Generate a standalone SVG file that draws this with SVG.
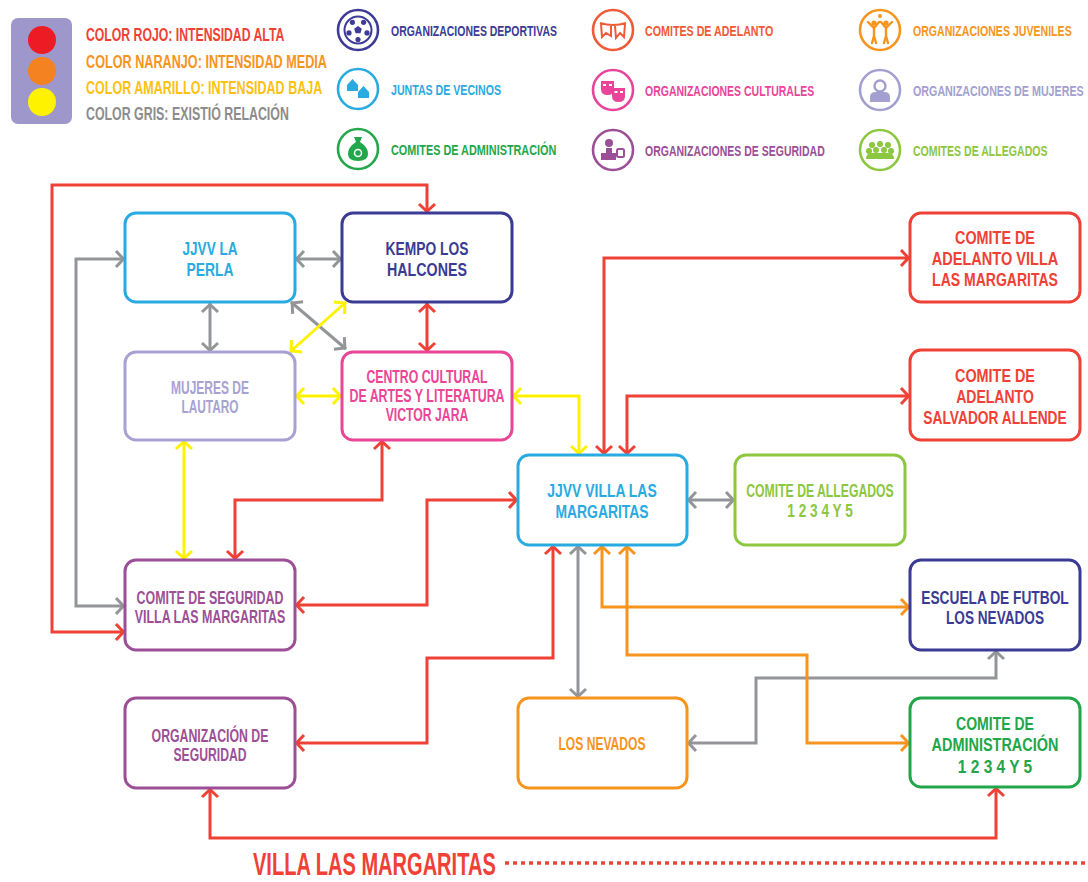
<svg xmlns="http://www.w3.org/2000/svg" width="1088" height="882" viewBox="0 0 1088 882">
<style>
.bg{fill:#ffffff}
.box{fill:#ffffff;stroke-width:3}
.t{font-family:"Liberation Sans",Arial,sans-serif;font-weight:bold;text-anchor:middle;font-size:19px}
.t3{font-size:18px}
.lg{font-family:"Liberation Sans",Arial,sans-serif;font-weight:bold;font-size:18px}
.lc{font-family:"Liberation Sans",Arial,sans-serif;font-weight:bold;font-size:15px}
.c{fill:none;stroke-width:3}
.red{stroke:#ef4136}
.gray{stroke:#939598}
.yel{stroke:#fff200}
.ora{stroke:#f7941d}
.ic{fill:none;stroke-width:2.6}
</style>
<defs>
<marker id="mR" viewBox="-12 -10 14 20" refX="0" refY="0" markerWidth="14" markerHeight="20" markerUnits="userSpaceOnUse" orient="auto-start-reverse"><path d="M-9,-8 L-1.5,0 L-9,8" fill="none" stroke="#ef4136" stroke-width="3"/></marker>
<marker id="mG" viewBox="-12 -10 14 20" refX="0" refY="0" markerWidth="14" markerHeight="20" markerUnits="userSpaceOnUse" orient="auto-start-reverse"><path d="M-9,-8 L-1.5,0 L-9,8" fill="none" stroke="#939598" stroke-width="3"/></marker>
<marker id="mY" viewBox="-12 -10 14 20" refX="0" refY="0" markerWidth="14" markerHeight="20" markerUnits="userSpaceOnUse" orient="auto-start-reverse"><path d="M-9,-8 L-1.5,0 L-9,8" fill="none" stroke="#fff200" stroke-width="3"/></marker>
<marker id="mO" viewBox="-12 -10 14 20" refX="0" refY="0" markerWidth="14" markerHeight="20" markerUnits="userSpaceOnUse" orient="auto-start-reverse"><path d="M-9,-8 L-1.5,0 L-9,8" fill="none" stroke="#f7941d" stroke-width="3"/></marker>
</defs>
<rect class="bg" x="0" y="0" width="1088" height="882"/>

<g id="legend-intensity">
<rect x="11" y="18" width="61" height="106" rx="7" fill="#9e97cc"/>
<circle cx="42" cy="40" r="14" fill="#ed1c24"/>
<circle cx="42" cy="71" r="14" fill="#f58220"/>
<circle cx="42" cy="102" r="14" fill="#fff200"/>
<text class="lg" transform="translate(86,40.5) scale(0.681,1)" fill="#ef4136">COLOR ROJO: INTENSIDAD ALTA</text>
<text class="lg" transform="translate(86,67.5) scale(0.703,1)" fill="#f7941d">COLOR NARANJO: INTENSIDAD MEDIA</text>
<text class="lg" transform="translate(86,93.5) scale(0.697,1)" fill="#fdc113">COLOR AMARILLO: INTENSIDAD BAJA</text>
<text class="lg" transform="translate(86,119.5) scale(0.688,1)" fill="#8c8c8c">COLOR GRIS: EXISTIÓ RELACIÓN</text>
</g>

<g id="legend-categories">
<g id="lg-deportivas" transform="translate(358,30)">
<circle class="ic" r="20" stroke="#3d3b96"/>
<circle r="13.5" fill="none" stroke="#3d3b96" stroke-width="2"/>
<polygon points="0,-4 3.8,-1.2 2.4,3.2 -2.4,3.2 -3.8,-1.2" fill="#3d3b96"/>
<g fill="#3d3b96"><circle cx="5.6" cy="-7.7" r="2.6"/><circle cx="9" cy="2.9" r="2.6"/><circle cx="0" cy="9.5" r="2.6"/><circle cx="-9" cy="2.9" r="2.6"/><circle cx="-5.6" cy="-7.7" r="2.6"/></g>
</g>
<text class="lc" transform="translate(391,35.5) scale(0.698,1)" fill="#3d3b96">ORGANIZACIONES DEPORTIVAS</text>

<g id="lg-juntas" transform="translate(358,89)">
<circle class="ic" r="20" stroke="#29abe2"/>
<path d="M-11,-4 L-5.5,-10 L0,-4 V2 H-11 Z M0,3 L5.5,-3 L11,3 V9 H0 Z" fill="#29abe2"/>
</g>
<text class="lc" transform="translate(391,94.5) scale(0.708,1)" fill="#29abe2">JUNTAS DE VECINOS</text>

<g id="lg-admin" transform="translate(358,149)">
<circle class="ic" r="20" stroke="#22a74a"/>
<path d="M-4,-12 H4 L2,-7 Q10,-2 10,5 Q10,12 0,12 Q-10,12 -10,5 Q-10,-2 -2,-7 Z" fill="#22a74a"/>
<circle cx="0" cy="4" r="3.5" fill="none" stroke="#ffffff" stroke-width="1.5"/>
</g>
<text class="lc" transform="translate(391,154.5) scale(0.724,1)" fill="#22a74a">COMITES DE ADMINISTRACIÓN</text>

<g id="lg-adelanto" transform="translate(613,30)">
<circle class="ic" r="20" stroke="#f05a36"/>
<path d="M-13,-7 Q0,-3 13,-7 M-12,-6 L-11,7 L-7,3 L-2,6 L-2,-4 M2,-4 L3,8 L7,3 L11,7 L12,-6" fill="none" stroke="#f05a36" stroke-width="2"/>
</g>
<text class="lc" transform="translate(645,35.5) scale(0.713,1)" fill="#f05a36">COMITES DE ADELANTO</text>

<g id="lg-culturales" transform="translate(613,90)">
<circle class="ic" r="20" stroke="#e8459a"/>
<path d="M-12,-9 H1 V-1 Q1,5 -5.5,5 Q-12,5 -12,-1 Z" fill="#e8459a"/>
<path d="M-1,-2 H12 V6 Q12,12 5.5,12 Q-1,12 -1,6 Z" fill="#e8459a"/>
<g fill="#ffffff"><rect x="-10" y="-6" width="3" height="2"/><rect x="-4" y="-6" width="3" height="2"/><rect x="1.5" y="1" width="3" height="2"/><rect x="7" y="1" width="3" height="2"/></g>
</g>
<text class="lc" transform="translate(645,95.5) scale(0.699,1)" fill="#e8459a">ORGANIZACIONES CULTURALES</text>

<g id="lg-seguridad" transform="translate(613,150)">
<circle class="ic" r="20" stroke="#9b4f96"/>
<circle cx="-4" cy="-7" r="4" fill="#9b4f96"/>
<path d="M-7,-2 H-1 V3 H3 V10 H-12 V3 H-7 Z" fill="#9b4f96"/>
<rect x="4" y="-1" width="7" height="8" rx="1.5" fill="none" stroke="#9b4f96" stroke-width="2"/>
</g>
<text class="lc" transform="translate(645,155.5) scale(0.701,1)" fill="#9b4f96">ORGANIZACIONES DE SEGURIDAD</text>

<g id="lg-juveniles" transform="translate(880,30)">
<circle class="ic" r="20" stroke="#f7941d"/>
<g fill="none" stroke="#f7941d" stroke-width="2.4" stroke-linecap="round">
<path d="M-6,-3 V6 M-6,6 L-8,13 M-6,6 L-4,13 M-12,-8 L-6,-2 L-1,-8"/>
<path d="M6,-3 V6 M6,6 L4,13 M6,6 L8,13 M1,-8 L6,-2 L12,-8"/>
</g>
<g fill="#f7941d"><circle cx="-6" cy="-7" r="2.6"/><circle cx="6" cy="-7" r="2.6"/><circle cx="0" cy="-14" r="2"/></g>
</g>
<text class="lc" transform="translate(913,35.5) scale(0.706,1)" fill="#f7941d">ORGANIZACIONES JUVENILES</text>

<g id="lg-mujeres" transform="translate(880,90)">
<circle class="ic" r="20" stroke="#a39fd1"/>
<circle cx="0" cy="-4" r="5.5" fill="none" stroke="#a39fd1" stroke-width="2.4"/>
<path d="M-10,12 V7 Q-10,2 -4,2 H4 Q10,2 10,7 V12 Z" fill="#a39fd1"/>
</g>
<text class="lc" transform="translate(913,95.5) scale(0.715,1)" fill="#a39fd1">ORGANIZACIONES DE MUJERES</text>

<g id="lg-allegados" transform="translate(880,150)">
<circle class="ic" r="20" stroke="#8dc63f"/>
<g fill="#8dc63f">
<circle cx="-8" cy="-5" r="3"/><circle cx="0" cy="-6" r="3"/><circle cx="8" cy="-5" r="3"/>
<circle cx="-11" cy="1" r="3"/><circle cx="-4" cy="0" r="3"/><circle cx="4" cy="0" r="3"/><circle cx="11" cy="1" r="3"/>
<path d="M-14,9 Q-14,3 -8,3 H8 Q14,3 14,9 Z"/>
</g>
</g>
<text class="lc" transform="translate(913,155.5) scale(0.704,1)" fill="#8dc63f">COMITES DE ALLEGADOS</text>
</g>

<g id="connectors">
<g>
<path class="c red" d="M125,632 H52 V185 H427 V213" marker-start="url(#mR)" marker-end="url(#mR)"/>
<path class="c red" d="M427,303 V352" marker-start="url(#mR)" marker-end="url(#mR)"/>
<path class="c red" d="M382,440 V500 H235 V560" marker-start="url(#mR)" marker-end="url(#mR)"/>
<path class="c red" d="M295,605 H427 V500 H518" marker-start="url(#mR)" marker-end="url(#mR)"/>
<path class="c red" d="M295,743 H427 V658 H553 V545" marker-start="url(#mR)" marker-end="url(#mR)"/>
<path class="c red" d="M210,788 V838 H996 V787" marker-start="url(#mR)" marker-end="url(#mR)"/>
<path class="c red" d="M604,455 V258 H910" marker-start="url(#mR)" marker-end="url(#mR)"/>
<path class="c red" d="M627,455 V396 H910" marker-start="url(#mR)" marker-end="url(#mR)"/>
</g>
<g>
<path class="c gray" d="M125,259 H76 V606 H125" marker-start="url(#mG)" marker-end="url(#mG)"/>
<path class="c gray" d="M295,259 H342" marker-start="url(#mG)" marker-end="url(#mG)"/>
<path class="c gray" d="M210,303 V352" marker-start="url(#mG)" marker-end="url(#mG)"/>
<path class="c gray" d="M291,302 L346,349" marker-start="url(#mG)" marker-end="url(#mG)"/>
<path class="c gray" d="M687,500 H735" marker-start="url(#mG)" marker-end="url(#mG)"/>
<path class="c gray" d="M578,545 V698" marker-start="url(#mG)" marker-end="url(#mG)"/>
<path class="c gray" d="M687,743 H756 V678 H996 V650" marker-start="url(#mG)" marker-end="url(#mG)"/>
</g>
<g>
<path class="c yel" d="M346,302 L290,352" marker-start="url(#mY)" marker-end="url(#mY)"/>
<path class="c yel" d="M295,396 H342" marker-start="url(#mY)" marker-end="url(#mY)"/>
<path class="c yel" d="M512,396 H579 V455" marker-start="url(#mY)" marker-end="url(#mY)"/>
<path class="c yel" d="M184,440 V560" marker-start="url(#mY)" marker-end="url(#mY)"/>
</g>
<g>
<path class="c ora" d="M602,545 V607 H910" marker-start="url(#mO)" marker-end="url(#mO)"/>
<path class="c ora" d="M627,545 V655 H807 V743 H910" marker-start="url(#mO)" marker-end="url(#mO)"/>
</g>
</g>

<g id="n-jjvv-la-perla">
<rect class="box" x="125" y="213" width="170" height="89" rx="11" stroke="#29abe2"/>
<text class="t" fill="#29abe2" transform="translate(210,255) scale(0.713,1)">JJVV LA</text>
<text class="t" fill="#29abe2" transform="translate(210,276) scale(0.730,1)">PERLA</text>
</g>
<g id="n-kempo">
<rect class="box" x="342" y="213" width="170" height="89" rx="11" stroke="#3b3b95"/>
<text class="t" fill="#3b3b95" transform="translate(427,255) scale(0.728,1)">KEMPO LOS</text>
<text class="t" fill="#3b3b95" transform="translate(427,276) scale(0.750,1)">HALCONES</text>
</g>
<g id="n-mujeres">
<rect class="box" x="125" y="352" width="170" height="88" rx="11" stroke="#a7a2d3"/>
<text class="t t3" fill="#a7a2d3" transform="translate(210,394) scale(0.667,1)">MUJERES DE</text>
<text class="t t3" fill="#a7a2d3" transform="translate(210,413) scale(0.659,1)">LAUTARO</text>
</g>
<g id="n-centro">
<rect class="box" x="342" y="352" width="170" height="88" rx="11" stroke="#ea4596"/>
<text class="t t3" fill="#ea4596" transform="translate(427,383) scale(0.682,1)">CENTRO CULTURAL</text>
<text class="t t3" fill="#ea4596" transform="translate(427,402) scale(0.689,1)">DE ARTES Y LITERATURA</text>
<text class="t t3" fill="#ea4596" transform="translate(427,421) scale(0.680,1)">VICTOR JARA</text>
</g>
<g id="n-jjvv-villa">
<rect class="box" x="518" y="455" width="169" height="90" rx="11" stroke="#29abe2"/>
<text class="t" fill="#29abe2" transform="translate(602,497) scale(0.734,1)">JJVV VILLA LAS</text>
<text class="t" fill="#29abe2" transform="translate(602,518) scale(0.730,1)">MARGARITAS</text>
</g>
<g id="n-allegados">
<rect class="box" x="735" y="455" width="170" height="90" rx="11" stroke="#8dc63f"/>
<text class="t t3" fill="#8dc63f" transform="translate(820,497) scale(0.679,1)">COMITE DE ALLEGADOS</text>
<text class="t t3" fill="#8dc63f" transform="translate(820,517) scale(0.758,1)">1 2 3 4 Y 5</text>
</g>
<g id="n-adelanto-villa">
<rect class="box" x="910" y="213" width="170" height="89" rx="11" stroke="#ef4136"/>
<text class="t" fill="#ef4136" transform="translate(995,244) scale(0.758,1)">COMITE DE</text>
<text class="t" fill="#ef4136" transform="translate(995,265) scale(0.766,1)">ADELANTO VILLA</text>
<text class="t" fill="#ef4136" transform="translate(995,286) scale(0.738,1)">LAS MARGARITAS</text>
</g>
<g id="n-adelanto-allende">
<rect class="box" x="910" y="350" width="170" height="90" rx="11" stroke="#ef4136"/>
<text class="t" fill="#ef4136" transform="translate(995,382) scale(0.758,1)">COMITE DE</text>
<text class="t" fill="#ef4136" transform="translate(995,403) scale(0.739,1)">ADELANTO</text>
<text class="t" fill="#ef4136" transform="translate(995,424) scale(0.724,1)">SALVADOR ALLENDE</text>
</g>
<g id="n-escuela">
<rect class="box" x="910" y="560" width="170" height="90" rx="11" stroke="#3b3b95"/>
<text class="t" fill="#3b3b95" transform="translate(995,604) scale(0.723,1)">ESCUELA DE FUTBOL</text>
<text class="t" fill="#3b3b95" transform="translate(995,624) scale(0.716,1)">LOS NEVADOS</text>
</g>
<g id="n-admin">
<rect class="box" x="910" y="698" width="170" height="89" rx="11" stroke="#22a64a"/>
<text class="t" fill="#22a64a" transform="translate(995,730) scale(0.739,1)">COMITE DE</text>
<text class="t" fill="#22a64a" transform="translate(995,751) scale(0.761,1)">ADMINISTRACIÓN</text>
<text class="t" fill="#22a64a" transform="translate(995,773) scale(0.816,1)">1 2 3 4 Y 5</text>
</g>
<g id="n-nevados">
<rect class="box" x="518" y="698" width="169" height="90" rx="11" stroke="#f7941d"/>
<text class="t t3" fill="#f7941d" transform="translate(602,750) scale(0.672,1)">LOS NEVADOS</text>
</g>
<g id="n-comite-seguridad">
<rect class="box" x="125" y="560" width="170" height="90" rx="11" stroke="#9c4f96"/>
<text class="t t3" fill="#9c4f96" transform="translate(210,604) scale(0.690,1)">COMITE DE SEGURIDAD</text>
<text class="t t3" fill="#9c4f96" transform="translate(210,623) scale(0.691,1)">VILLA LAS MARGARITAS</text>
</g>
<g id="n-org-seguridad">
<rect class="box" x="125" y="698" width="170" height="90" rx="11" stroke="#9c4f96"/>
<text class="t t3" fill="#9c4f96" transform="translate(210,742) scale(0.684,1)">ORGANIZACIÓN DE</text>
<text class="t t3" fill="#9c4f96" transform="translate(210,761) scale(0.676,1)">SEGURIDAD</text>
</g>

<g id="title">
<text transform="translate(253,875) scale(0.647,1)" fill="#ef4136" font-family="Liberation Sans, Arial, sans-serif" font-weight="bold" font-size="31">VILLA LAS MARGARITAS</text>
<line x1="505" y1="863" x2="1088" y2="863" stroke="#ef4136" stroke-width="3.5" stroke-dasharray="4 4"/>
</g>
</svg>
